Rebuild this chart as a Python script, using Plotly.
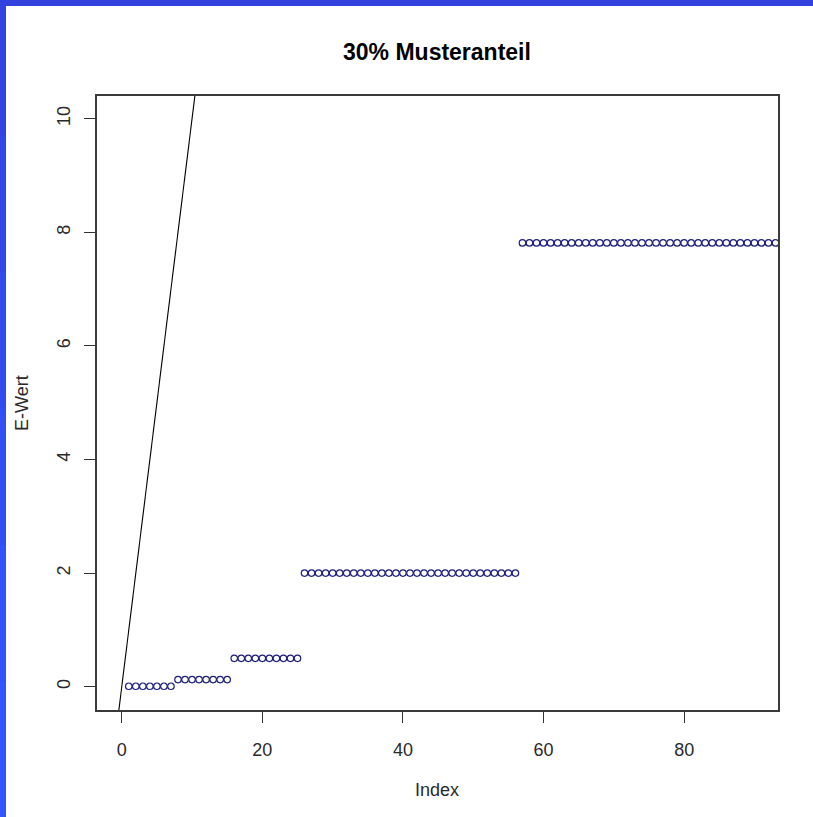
import plotly.graph_objects as go

# E-values per index, grouped in steps
e_wert = ([0.0078] * 7 + [0.125] * 8 + [0.5] * 10 + [2.0] * 31 + [7.8125] * 37)
index = list(range(1, len(e_wert) + 1))

x_ticks = [0, 20, 40, 60, 80]
y_ticks = [0, 2, 4, 6, 8, 10]

title_text = "30% Musteranteil"
x_title = "Index"
y_title = "E-Wert"

W, H = 813, 817
L, R, T, B = 97, 35, 96, 107
pw, ph = W - L - R, H - T - B


def px(x):
    return (x - L) / pw


def py(y):
    return (H - B - y) / ph


FONT = "Liberation Sans, Arial, sans-serif"
TXT = "#2a2a2a"

fig = go.Figure()

# identity reference line y = x
fig.add_trace(go.Scatter(
    x=[-5, 15], y=[-5, 15], mode="lines",
    line=dict(color="black", width=1.1), hoverinfo="skip", showlegend=False,
))

fig.add_trace(go.Scatter(
    x=index, y=e_wert, mode="markers",
    marker=dict(symbol="circle-open", size=6.5, color="#1e1e7a",
                line=dict(width=1.2, color="#1e1e7a")),
    showlegend=False, cliponaxis=True,
))

axis_common = dict(
    showgrid=False, zeroline=False, showline=True, mirror=True,
    linecolor="#3a3a3a", linewidth=1.5,
    ticks="outside", ticklen=11, tickwidth=1, tickcolor="#333",
    tickfont=dict(family=FONT, size=18, color=TXT),
)

fig.update_xaxes(range=[-3.52, 93.35], tickvals=x_ticks, ticklabelstandoff=12,
                 **axis_common)
fig.update_yaxes(range=[-0.41, 10.4], tickvals=y_ticks, tickangle=-90,
                 ticklabelstandoff=7, **axis_common)

shapes = []
# frame band along the top and left edges of the page
shapes.append(dict(type="rect", xref="paper", yref="paper",
                   x0=px(-5), x1=px(W + 5), y0=py(6), y1=py(-5),
                   fillcolor="#3342dd", line=dict(width=0), layer="above"))
left_cols = ["#3343e0", "#3346e6", "#334aec", "#334ef2", "#3352f7", "#3355fb"]
seg = H / len(left_cols)
for i, c in enumerate(left_cols):
    shapes.append(dict(type="rect", xref="paper", yref="paper",
                       x0=px(-5), x1=px(6), y0=py(i * seg + seg + 1), y1=py(i * seg),
                       fillcolor=c, line=dict(width=0), layer="above"))

annotations = [
    dict(text=f"<b>{title_text}</b>", xref="paper", yref="paper",
         x=px(436.5), y=py(52), xanchor="center", yanchor="middle",
         showarrow=False, font=dict(family=FONT, size=23, color="black")),
    dict(text=x_title, xref="paper", yref="paper",
         x=px(437), y=py(790), xanchor="center", yanchor="middle",
         showarrow=False, font=dict(family=FONT, size=18, color=TXT)),
    dict(text=y_title, xref="paper", yref="paper",
         x=px(22), y=py(403), xanchor="center", yanchor="middle",
         textangle=-90, showarrow=False,
         font=dict(family=FONT, size=18, color=TXT)),
]

fig.update_layout(
    width=W, height=H,
    margin=dict(l=L, r=R, t=T, b=B, pad=0),
    paper_bgcolor="white", plot_bgcolor="white",
    shapes=shapes, annotations=annotations,
    showlegend=False,
)

fig.write_html("out.html")
